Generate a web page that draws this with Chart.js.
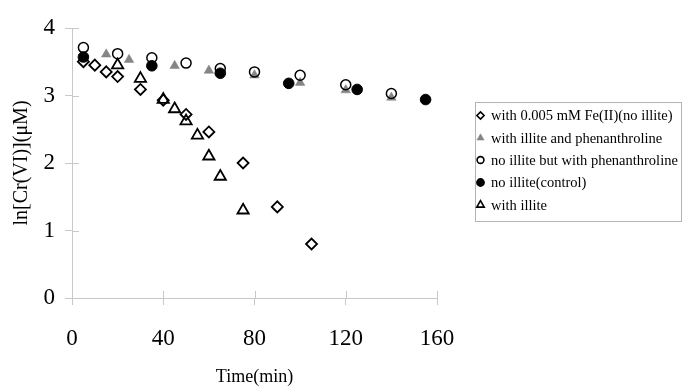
<!DOCTYPE html>
<html>
<head>
<meta charset="utf-8">
<script src="https://cdn.jsdelivr.net/npm/chart.js@4/dist/chart.umd.min.js"></script>
<style>
html,body{margin:0;padding:0;background:#fff;}
#wrap{width:685px;height:388px;position:relative;}
</style>
</head>
<body>
<div id="wrap"><canvas id="c" width="685" height="388"></canvas></div>
<script>
// ---- data ----
const xTicks = [0, 40, 80, 120, 160];
const yTicks = [0, 1, 2, 3, 4];
const seriesNames = [
  "with 0.005 mM Fe(II)(no illite)",
  "with illite and phenanthroline",
  "no illite but with phenanthroline",
  "no illite(control)",
  "with illite"
];
const feX = [5, 10, 15, 20, 30, 40, 50, 60, 75, 90, 105];
const feY = [3.50, 3.45, 3.35, 3.28, 3.09, 2.93, 2.72, 2.46, 2.00, 1.35, 0.80];
const ilPhX = [15, 25, 45, 60, 80, 100, 120, 140];
const ilPhY = [3.61, 3.53, 3.44, 3.37, 3.30, 3.19, 3.08, 2.97];
const noIlPhX = [5, 20, 35, 50, 65, 80, 100, 120, 140];
const noIlPhY = [3.71, 3.62, 3.56, 3.48, 3.40, 3.35, 3.30, 3.16, 3.03];
const ctrlX = [5, 35, 65, 95, 125, 155];
const ctrlY = [3.57, 3.44, 3.33, 3.18, 3.09, 2.94];
const ilX = [20, 30, 40, 45, 50, 55, 60, 65, 75];
const ilY = [3.45, 3.25, 2.94, 2.80, 2.62, 2.41, 2.10, 1.80, 1.30];

const pts = (xs, ys) => xs.map((x, i) => ({x: x, y: ys[i]}));
const SERIF = "'Liberation Serif', 'Times New Roman', serif";
const AXIS = '#c8c8c8';

const datasets = [
  {label: seriesNames[0], data: pts(feX, feY), pointStyle: 'rectRot', pointRadius: 5.5,
   backgroundColor: 'rgba(255,255,255,0)', borderColor: '#000', borderWidth: 1.8, order: 5},
  {label: seriesNames[1], data: pts(ilPhX, ilPhY), pointStyle: 'triangle', pointRadius: 5.5,
   backgroundColor: '#858585', borderColor: '#858585', borderWidth: 0.5, order: 4},
  {label: seriesNames[2], data: pts(noIlPhX, noIlPhY), pointStyle: 'circle', pointRadius: 5,
   backgroundColor: 'rgba(255,255,255,0)', borderColor: '#000', borderWidth: 1.5, order: 3},
  {label: seriesNames[3], data: pts(ctrlX, ctrlY), pointStyle: 'circle', pointRadius: 5.3,
   backgroundColor: '#000', borderColor: '#000', borderWidth: 1, order: 2},
  {label: seriesNames[4], data: pts(ilX, ilY), pointStyle: 'triangle', pointRadius: 6.5,
   backgroundColor: 'rgba(255,255,255,0)', borderColor: '#000', borderWidth: 1.8, order: 1}
];

const innerTicks = {
  id: 'innerTicks',
  afterDatasetsDraw(chart) {
    const ctx = chart.ctx, xs = chart.scales.x, ys = chart.scales.y;
    const y0 = ys.getPixelForValue(0), x0 = xs.getPixelForValue(0);
    ctx.save();
    ctx.strokeStyle = AXIS; ctx.lineWidth = 1;
    ctx.beginPath();
    xTicks.forEach(v => { const p = Math.round(xs.getPixelForValue(v)) + 0.5; ctx.moveTo(p, y0); ctx.lineTo(p, y0 - 7); });
    yTicks.forEach(v => { const p = Math.round(ys.getPixelForValue(v)) + 0.5; ctx.moveTo(x0, p); ctx.lineTo(x0 + 7, p); });
    ctx.stroke();
    ctx.restore();
  }
};

const customLegend = {
  id: 'customLegend',
  afterDraw(chart) {
    const ctx = chart.ctx;
    ctx.save();
    ctx.strokeStyle = '#b4b4b4'; ctx.lineWidth = 1;
    ctx.strokeRect(475.5, 102.5, 206, 119);
    const rowY = [115.5, 138, 160, 182.5, 205];
    const legR = [3.6, 4.2, 3.4, 3.6, 4.3];
    chart.data.datasets.forEach((ds, i) => {
      ctx.fillStyle = ds.backgroundColor;
      ctx.strokeStyle = ds.borderColor;
      ctx.lineWidth = i === 1 ? 0.5 : 1.6;
      Chart.helpers.drawPoint(ctx, {pointStyle: ds.pointStyle, radius: legR[i], rotation: 0, borderWidth: ctx.lineWidth}, 480.5, rowY[i]);
      ctx.fillStyle = '#000';
      ctx.font = '14.5px ' + SERIF;
      ctx.textBaseline = 'middle';
      ctx.textAlign = 'left';
      ctx.fillText(ds.label, 491, rowY[i] + 1);
    });
    ctx.restore();
  }
};

new Chart(document.getElementById('c'), {
  type: 'scatter',
  data: {datasets: datasets},
  options: {
    responsive: false,
    animation: false,
    devicePixelRatio: 1,
    layout: {padding: {top: 28, right: 248, left: 0, bottom: 0}},
    plugins: {legend: {display: false}, tooltip: {enabled: false}},
    scales: {
      x: {
        type: 'linear', min: 0, max: 160,
        afterBuildTicks: s => { s.ticks = xTicks.map(v => ({value: v})); },
        afterFit: s => { s.height = 90; },
        ticks: {font: {family: SERIF, size: 23}, color: '#000', padding: 20, maxRotation: 0},
        grid: {drawOnChartArea: false, drawTicks: true, tickLength: 7, color: AXIS},
        border: {color: AXIS},
        title: {display: true, text: 'Time(min)', font: {family: SERIF, size: 18}, color: '#000', padding: {top: 0, bottom: 0}}
      },
      y: {
        type: 'linear', min: 0, max: 4,
        afterBuildTicks: s => { s.ticks = yTicks.map(v => ({value: v})); },
        afterFit: s => { s.width = 72; },
        ticks: {font: {family: SERIF, size: 23}, color: '#000', padding: 10},
        grid: {drawOnChartArea: false, drawTicks: true, tickLength: 7, color: AXIS},
        border: {color: AXIS},
        title: {display: true, text: 'ln[Cr(VI)](μM)', font: {family: SERIF, size: 20}, color: '#000', padding: {top: 10, bottom: 0}}
      }
    }
  },
  plugins: [innerTicks, customLegend]
});
</script>
</body>
</html>
